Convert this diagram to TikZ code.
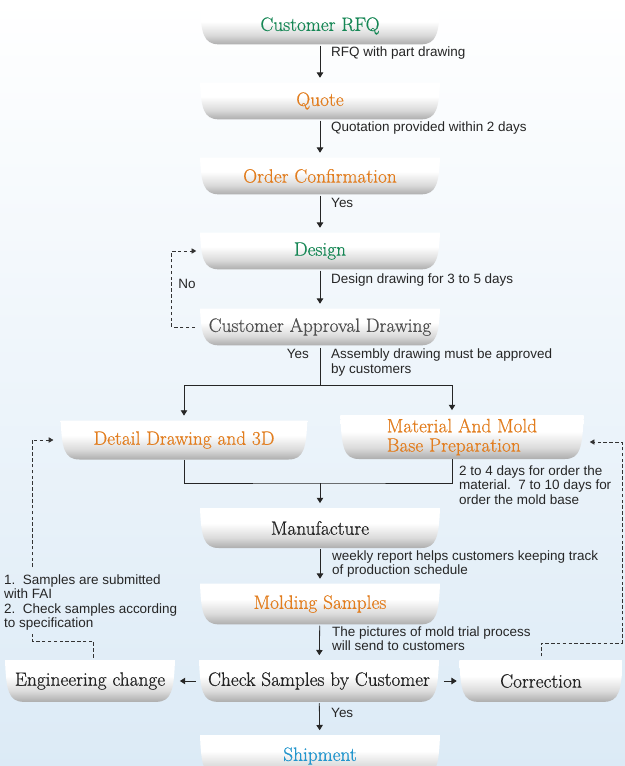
\documentclass[tikz,border=0pt]{standalone}
\usepackage{fontspec}
\setsansfont{Liberation Sans}
\newfontfamily\stepfont{Latin Modern Roman}[FakeBold=0.6]
\usetikzlibrary{arrows.meta,positioning}

\definecolor{stepgreen}{RGB}{22,135,85}
\definecolor{steporange}{RGB}{226,125,30}
\definecolor{stepgray}{RGB}{80,80,80}
\definecolor{stepdark}{RGB}{35,35,35}
\definecolor{stepblue}{RGB}{35,150,205}
\definecolor{bgblue}{RGB}{216,232,245}

\pgfdeclareverticalshading{bowlshade}{100bp}{color(0bp)=(black!32); color(25bp)=(black!32); color(38bp)=(black!14); color(56bp)=(white); color(100bp)=(white)}

\begin{document}
\begin{tikzpicture}[x=0.03cm,y=-0.03cm]
   \tikzstyle{bowl}=[minimum width=7.2cm, minimum height=1.1cm, inner sep=0pt, font=\stepfont\fontsize{16.5}{16.5}\selectfont,
      path picture={\shade[shading=bowlshade]
         (path picture bounding box.north west) -- (path picture bounding box.north east)
         .. controls ([xshift=-1pt,yshift=10pt]path picture bounding box.south east) and ([xshift=-3pt]path picture bounding box.south east) .. ([xshift=-16pt]path picture bounding box.south east)
         -- ([xshift=16pt]path picture bounding box.south west)
         .. controls ([xshift=3pt]path picture bounding box.south west) and ([xshift=1pt,yshift=10pt]path picture bounding box.south west) .. (path picture bounding box.north west) -- cycle;}]
   \tikzstyle{note}=[inner sep=0pt, font=\sffamily\fontsize{11.5}{12.4}\selectfont, text=black!85, align=left]
   \tikzstyle{line}=[black!85, line width=0.7pt]
   \tikzstyle{flow}=[line, -{Triangle[length=4.5pt,width=5.5pt]}, shorten >=4pt, shorten <=1pt]
   \tikzstyle{back}=[black!80, line width=0.7pt, dash pattern=on 3pt off 2pt]
   \tikzstyle{backflow}=[back, -{Triangle[length=4pt,width=4.5pt]}]

% background
\clip (0,0) rectangle (625,766);
\shade[top color=white, middle color=bgblue!55, bottom color=bgblue!90] (0,0) rectangle (625,766);

% steps
\node[bowl, text=stepgreen] (rfq) at (320,26) {Customer RFQ};
\node[bowl, text=steporange] (quote) at (320,101) {Quote};
\node[bowl, text=steporange] (order) at (320,176) {Order Confirmation};
\node[bowl, text=stepgreen] (design) at (320,251) {Design};
\node[bowl, text=stepgray] (approval) at (320,327) {Customer Approval Drawing};
\node[bowl, minimum width=7.4cm, minimum height=1.17cm, text=steporange] (detail) at (184,440) {Detail Drawing and 3D};
\node[bowl, minimum width=7.3cm, minimum height=1.32cm, text=steporange, align=left] (material) at (462,437) {Material And Mold\\Base Preparation};
\node[bowl, minimum height=1.2cm, text=stepdark] (manufacture) at (320,528) {Manufacture};
\node[bowl, minimum height=1.22cm, text=steporange] (molding) at (320,604) {Molding Samples};
\node[bowl, minimum height=1.25cm, text=stepdark] (check) at (319,681) {Check Samples by Customer};
\node[bowl, minimum width=5.1cm, minimum height=1.25cm, text=stepdark] (engineering) at (90,681) {Engineering change};
\node[bowl, minimum width=4.9cm, minimum height=1.25cm, text=stepdark] (correction) at (541,681) {Correction};
\node[bowl, minimum height=1.25cm, text=stepblue] (shipment) at (320,756) {Shipment};

% notes
\node[note, anchor=north west] (rfqnote) at (331,47) {RFQ with part drawing};
\node[note, anchor=north west] (quotenote) at (331,122) {Quotation provided within 2 days};
\node[note, anchor=north west] (ordernote) at (331,198) {Yes};
\node[note, anchor=north west] (designnote) at (331,274) {Design drawing for 3 to 5 days};
\node[note, anchor=north east] (yesnote) at (309,349) {Yes};
\node[note, anchor=north west] (approvalnote) at (331,349) {Assembly drawing must be approved\\by customers};
\node[note] (nonote) at (187,284) {No};
\node[note, anchor=north west] (materialnote) at (459,465) {2 to 4 days for order the\\material.\ \ 7 to 10 days for\\order the mold base};
\node[note, anchor=north west] (manufacturenote) at (332,550) {weekly report helps customers keeping track\\of production schedule};
\node[note, anchor=north west] (moldingnote) at (332,626) {The pictures of mold trial process\\will send to customers};
\node[note, anchor=north west] (samplenote) at (4,574) {1.\ \ Samples are submitted\\with FAI\\2.\ \ Check samples according\\to specification};
\node[note, anchor=north west] (checknote) at (331,708) {Yes};

% main flow
\draw[flow] (rfq) -- (quote);
\draw[flow] (quote) -- (order);
\draw[flow] (order) -- (design);
\draw[flow] (design) -- (approval);
\coordinate (split) at (320,385);
\draw[line, shorten <=2pt] (approval) -- (split);
\draw[flow, shorten <=0pt] (split) -| (detail.north);
\draw[flow, shorten <=0pt] (split) -| ([xshift=-0.3cm]material.north);
\coordinate (join) at (320,483);
\draw[line] (detail) |- (join) -| ([xshift=-0.3cm]material.south);
\draw[flow, shorten <=0pt] (join) -- (manufacture);
\draw[flow] (manufacture) -- (molding);
\draw[flow] (molding) -- (check);
\draw[flow] (check) -- (shipment);
\draw[flow, shorten <=2.5pt] (check) -- (engineering);
\draw[flow, shorten <=4pt, shorten >=2pt] (check) -- (correction);

% loops back
\draw[backflow, shorten <=4pt, shorten >=3pt] (approval.west) -- ++(-28,0) |- (design.west);
\coordinate (ebend) at (32,641);
\draw[back, shorten <=2pt] ([xshift=0.1cm]engineering.north) |- (ebend) -- ++(0,-7);
\coordinate (etop) at (32,567);
\draw[backflow, shorten >=6pt] (etop) |- (detail.west);
\coordinate (cbend) at (622,643);
\draw[backflow, shorten <=3pt, shorten >=5pt] (correction.north) |- (cbend) |- ([yshift=-0.15cm]material.east);

\end{tikzpicture}
\end{document}
